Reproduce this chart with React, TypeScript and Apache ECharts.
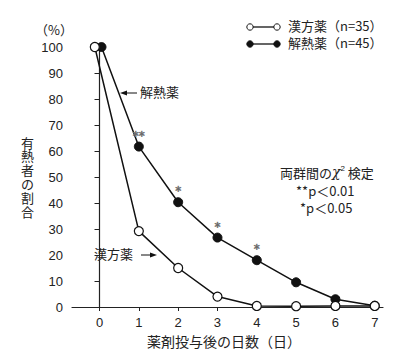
import React, { useEffect, useRef } from "react";
import * as echarts from "echarts";

const days = [0, 1, 2, 3, 4, 5, 6, 7];
const kampoX = [-0.12, 1, 2, 3, 4, 5, 6, 7];
const kampo = [100, 29.2, 15, 4, 0.4, 0.3, 0.4, 0.4];
const antiX = [0.05, 1, 2, 3, 4, 5, 6, 7];
const antipyretic = [100, 61.7, 40.3, 26.7, 18, 9.5, 3, 0.5];
const significance = ["", "**", "*", "*", "*", "", "", ""];
const yTitleChars = ["有", "熱", "者", "の", "割", "合"];

const JP = "'Noto Sans CJK JP', sans-serif";
const NUM = "'Liberation Sans', Arial, sans-serif";

export default function App() {
  const ref = useRef<HTMLDivElement>(null);
  useEffect(() => {
    document.body.style.margin = "0";
    if (!ref.current) return;
    const chart = echarts.init(ref.current, null, { renderer: "svg" });
    chart.setOption({
      animation: false,
      backgroundColor: "#fff",
      grid: { left: 72, right: 17, top: 47, bottom: 49 },
      xAxis: {
        type: "value",
        min: -0.7,
        max: 7.21,
        axisLine: { show: true, lineStyle: { color: "#222", width: 1.2 } },
        axisTick: { show: true, length: 4, customValues: days, lineStyle: { color: "#222" } },
        axisLabel: { customValues: days, color: "#222", fontSize: 13, fontFamily: NUM, margin: 9 },
        splitLine: { show: false },
      },
      yAxis: {
        type: "value",
        min: 0,
        max: 100,
        interval: 10,
        axisLine: { show: true, lineStyle: { color: "#222", width: 1.2 } },
        axisTick: { show: true, length: 5, lineStyle: { color: "#222" } },
        axisLabel: { color: "#222", fontSize: 13, fontFamily: NUM, margin: 9 },
        splitLine: { show: false },
      },
      series: [
        {
          name: "解熱薬（n=45）",
          type: "line",
          data: antipyretic.map((v, i) => [antiX[i], v]),
          symbol: "circle",
          symbolSize: 9,
          lineStyle: { color: "#111", width: 1.5 },
          itemStyle: { color: "#111", borderColor: "#111", borderWidth: 1 },
          label: {
            show: true,
            position: "top",
            distance: 0,
            formatter: (p: any) => significance[p.dataIndex] || "",
            color: "#666",
            textBorderColor: "#888",
            textBorderWidth: 0.6,
            fontSize: 12,
            fontFamily: "'DejaVu Sans', sans-serif",
          },
          z: 2,
        },
        {
          name: "漢方薬（n=35）",
          type: "line",
          data: kampo.map((v, i) => [kampoX[i], v]),
          symbol: "circle",
          symbolSize: 9,
          lineStyle: { color: "#111", width: 1.5 },
          itemStyle: { color: "#fff", borderColor: "#111", borderWidth: 1.2 },
          z: 3,
        },
      ],
      graphic: [
        { type: "text", left: 35, top: 23, style: { text: "（%）", fontSize: 13, fontFamily: JP, fill: "#222" } },
        ...yTitleChars.map((c, i) => ({
          type: "text",
          left: 21,
          top: 135 + i * 13.9,
          style: { text: c, fontSize: 13, lineHeight: 14, fontFamily: JP, fill: "#222" },
        })),
        {
          type: "text",
          left: 147,
          top: 334,
          style: { text: "薬剤投与後の日数（日）", fontSize: 14, fontFamily: JP, fill: "#222" },
        },
        // legend
        { type: "line", shape: { x1: 250, y1: 27, x2: 277, y2: 27 }, style: { stroke: "#111", lineWidth: 1.3 } },
        { type: "circle", shape: { cx: 250, cy: 27, r: 3.2 }, style: { fill: "#fff", stroke: "#111", lineWidth: 1 } },
        { type: "circle", shape: { cx: 277, cy: 27, r: 3.2 }, style: { fill: "#fff", stroke: "#111", lineWidth: 1 } },
        { type: "text", left: 288, top: 19, style: { text: "漢方薬（n=35）", fontSize: 13, fontFamily: JP, fill: "#222" } },
        { type: "line", shape: { x1: 250, y1: 44, x2: 277, y2: 44 }, style: { stroke: "#111", lineWidth: 1.3 } },
        { type: "circle", shape: { cx: 250, cy: 44, r: 3.2 }, style: { fill: "#111", stroke: "#111", lineWidth: 1 } },
        { type: "circle", shape: { cx: 277, cy: 44, r: 3.2 }, style: { fill: "#111", stroke: "#111", lineWidth: 1 } },
        { type: "text", left: 288, top: 36, style: { text: "解熱薬（n=45）", fontSize: 13, fontFamily: JP, fill: "#222" } },
        // annotation 解熱薬 with arrow
        { type: "line", shape: { x1: 123, y1: 93, x2: 137, y2: 93 }, style: { stroke: "#111", lineWidth: 1 } },
        { type: "polygon", shape: { points: [[120, 93], [127, 90.5], [127, 95.5]] }, style: { fill: "#111" } },
        { type: "text", left: 140, top: 85, style: { text: "解熱薬", fontSize: 13, fontFamily: JP, fill: "#222" } },
        // annotation 漢方薬 with arrow
        { type: "text", left: 94, top: 247, style: { text: "漢方薬", fontSize: 13, fontFamily: JP, fill: "#222" } },
        { type: "line", shape: { x1: 141, y1: 255, x2: 154, y2: 255 }, style: { stroke: "#111", lineWidth: 1 } },
        { type: "polygon", shape: { points: [[157, 255], [150, 252.5], [150, 257.5]] }, style: { fill: "#111" } },
        // test note
        {
          type: "text",
          left: 280,
          top: 164,
          style: {
            text: "{a|両群間の}{c|χ}{s|2}{a| 検定}",
            rich: {
              a: { fontSize: 13, fontFamily: JP, fill: "#222" },
              c: { fontSize: 14, fontFamily: "'DejaVu Serif', serif", fontStyle: "italic", fill: "#222" },
              s: { fontSize: 8, fontFamily: NUM, fill: "#222", verticalAlign: "top", padding: [0, 0, 8, 0] },
            },
          },
        },
        { type: "text", left: 296, top: 184, style: { text: "**p＜0.01", fontSize: 13, fontFamily: JP, fill: "#222" } },
        { type: "text", left: 300, top: 201, style: { text: "*p＜0.05", fontSize: 13, fontFamily: JP, fill: "#222" } },
      ],
    });
    return () => chart.dispose();
  }, []);
  return <div ref={ref} style={{ width: 400, height: 356 }} />;
}
